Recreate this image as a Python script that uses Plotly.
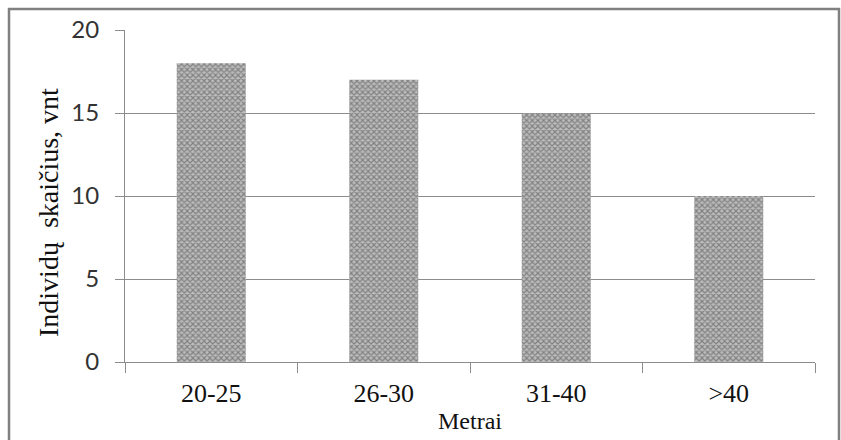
import plotly.graph_objects as go

categories = ["20-25", "26-30", "31-40", ">40"]
values = [18, 17, 15, 10]
y_ticks = [0, 5, 10, 15, 20]
x_title = "Metrai"
y_title = "Individų  skaičius, vnt"

W, H = 841, 440
L, R, T, B = 125, 26, 30, 78
pw, ph = W - L - R, H - T - B

def px_x(p):
    return (p - L) / pw

def px_y(p):
    return (H - B - p) / ph

fig = go.Figure(go.Bar(
    x=categories, y=values, width=0.4,
    marker=dict(color="white", line=dict(width=0),
                pattern=dict(shape="x", fgcolor="#454545", bgcolor="#bcbcbc",
                             size=4, solidity=0.5)),
))

fig.update_layout(
    width=W, height=H,
    margin=dict(l=L, r=R, t=T, b=B),
    paper_bgcolor="white", plot_bgcolor="white",
    showlegend=False,
    bargap=0.6,
    xaxis=dict(
        showline=True, linecolor="#8c8c8c", linewidth=1,
        ticks="outside", tickson="boundaries", ticklen=10, tickcolor="#8c8c8c",
        showgrid=False,
        tickfont=dict(family="Liberation Serif", size=26, color="#111111"),
        ticklabelstandoff=8,
        title=dict(text=x_title, font=dict(family="Liberation Serif", size=24, color="#111111"),
                   standoff=4),
    ),
    yaxis=dict(
        range=[0, 20], tickvals=y_ticks,
        showline=True, linecolor="#8c8c8c", linewidth=1,
        ticks="outside", ticklen=9, tickcolor="#8c8c8c",
        showgrid=True, gridcolor="#8c8c8c", gridwidth=1,
        zeroline=False,
        tickfont=dict(family="Lato", size=24, color="#333333"),
        ticklabelstandoff=11,
    ),
    shapes=[dict(type="rect", xref="paper", yref="paper",
                 x0=px_x(9), x1=px_x(839), y0=px_y(445), y1=px_y(9),
                 line=dict(color="#808080", width=2.5))],
    annotations=[dict(text=y_title, xref="paper", yref="paper",
                      x=px_x(48), y=px_y(213), textangle=-90, showarrow=False,
                      font=dict(family="Liberation Serif", size=28, color="#111111"),
                      xanchor="center", yanchor="middle")],
)

fig.write_html("out.html")
